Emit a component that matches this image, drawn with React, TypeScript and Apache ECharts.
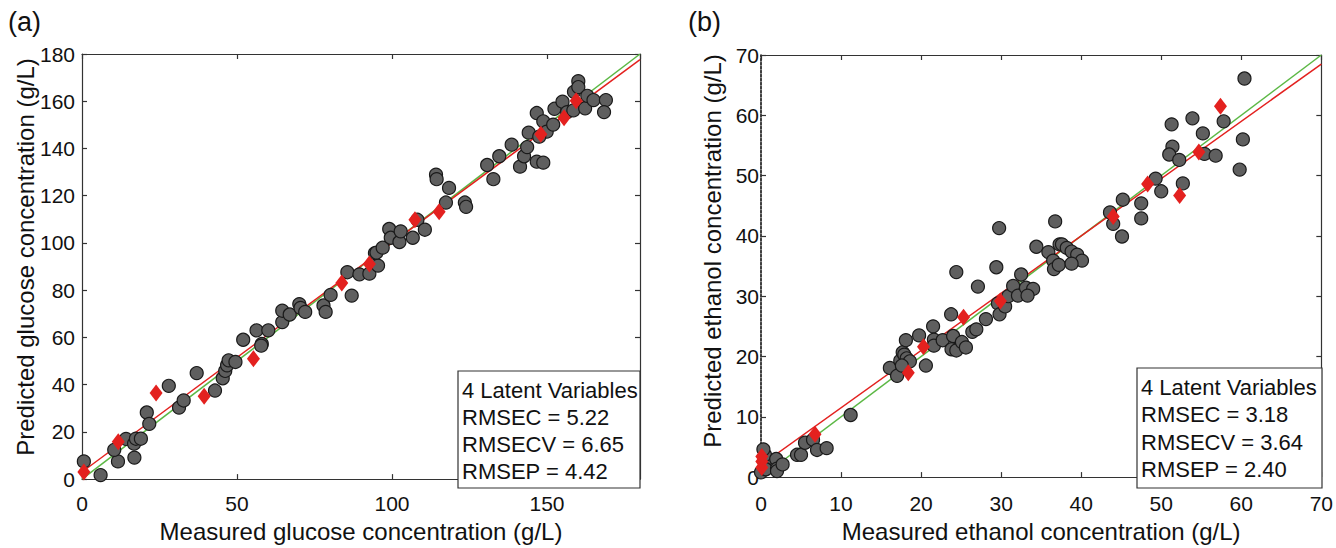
import React, { useEffect, useRef } from "react";
import * as echarts from "echarts";

// ---------- Panel (a): glucose ----------
const glucoseCalibration: number[][] = [
  [0.6, 7.5], [6, 1.7], [11.6, 7.5], [10.4, 12.4], [14.2, 17], [16.8, 15], [16.9, 9.1], [17.4, 17.1],
  [19, 17.1], [20.9, 28.2], [21.7, 23.4], [28, 39.5], [31.3, 30.3], [32.8, 33.3], [37, 44.9], [42.9, 37.5],
  [45.4, 42.7], [46.2, 45.8], [46.8, 48.2], [47.3, 50.3], [49.5, 49.6], [52, 59], [56.3, 63], [60.1, 63],
  [58, 57.2], [57.8, 56.5], [64.6, 66.5], [64.6, 71.3], [67, 69.7], [70.1, 74.1], [70.5, 72.5], [72, 70.8],
  [77.9, 73.5], [78.6, 70.8], [80.2, 78], [87, 77.7], [85.6, 87.6], [89.5, 86.7], [92.7, 87], [94.5, 95.7],
  [95.5, 90.4], [95, 95.9], [97, 98], [99.1, 105.9], [99.6, 102.2], [102.4, 100.4], [102.8, 104.9],
  [106.7, 102.2], [108.2, 109.8], [110.6, 105.6], [114.2, 128.9], [114.4, 127], [118.4, 123.3],
  [117.4, 117.1], [123.5, 117.1], [123.9, 115.3], [130.7, 133], [132.7, 127], [134.6, 136.7],
  [138.6, 141.6], [141.3, 132.3], [142.6, 136.7], [143.6, 140.6], [144.1, 146.7], [146.7, 134.4],
  [148.8, 134], [146.7, 155], [148.8, 151.5], [149.9, 147.1], [147.5, 145], [152, 150.1], [152.4, 156.8],
  [155, 159.8], [156.5, 155.4], [158.5, 156.1], [158.7, 164], [160.1, 168.5], [160.1, 166], [162.3, 157],
  [163, 162.3], [165, 160.5], [169, 160.5], [168.4, 155.4],
];
const glucosePrediction: number[][] = [
  [0.6, 3], [11.7, 15.8], [23.9, 36.5], [39.4, 35.1], [55.3, 51], [83.8, 83], [92.7, 91.1],
  [107.4, 109.8], [115.2, 113.2], [148, 146], [155.5, 153], [159.4, 160.2],
];
const glucoseIdealLine: number[][] = [[0, 0], [180, 180]];
const glucoseFitLine: number[][] = [[0, 3], [180, 177.6]];
const glucoseStats: string[] = ["4 Latent Variables", "RMSEC = 5.22", "RMSECV = 6.65", "RMSEP = 4.42"];

// ---------- Panel (b): ethanol ----------
const ethanolCalibration: number[][] = [
  [0, 0.8], [0.5, 2.6], [0.5, 3.7], [0.3, 4.6], [0.6, 1.3], [1.9, 3], [2, 1.4], [2, 1], [2.7, 2.1],
  [4.5, 3.7], [5, 3.7], [5.5, 5.7], [6.5, 6.2], [7, 4.5], [8.2, 4.8], [11.2, 10.3],
  [16.1, 18.1], [17, 16.8], [17.4, 19.3], [17.7, 20.7], [17.9, 20.3], [18.2, 19.7], [18.6, 19.2],
  [17.6, 18.5], [18.1, 22.7], [19.75, 23.5], [20.6, 18.5], [21.5, 25], [21.6, 22.8], [21.6, 21.8],
  [22.7, 22.7], [23.75, 27], [24, 23.4], [23.8, 21.2], [24.4, 21], [24.4, 34], [25.1, 22.4], [25.6, 21.5],
  [26.4, 24.1], [26.9, 24.5], [27.1, 31.6], [28.1, 26.2], [29.4, 34.8], [29.6, 28.8], [29.8, 27],
  [30.5, 28.3], [30.9, 30], [31.5, 31.7], [32.1, 30.1], [32.5, 33.6], [33.1, 31.4], [34, 31.2],
  [33.3, 30.1], [34.4, 38.2], [35.9, 37.3], [36.5, 35.9], [36.6, 34.5], [37.2, 35.2], [29.75, 41.3],
  [36.75, 42.4], [37.3, 38.6], [37.6, 38.6], [38.2, 38], [38.8, 37.4], [39.5, 36.9], [40.1, 35.9],
  [38.8, 35.4], [43.6, 43.9], [44, 42], [45.2, 46], [45.1, 39.9], [47.5, 45.4], [47.5, 42.9],
  [49.3, 49.5], [50, 47.4], [51.3, 58.5], [51.4, 54.8], [51, 53.5], [52.25, 52.6], [52.7, 48.7],
  [53.9, 59.5], [55.2, 57], [55.4, 53.6], [56.8, 53.3], [57.8, 59], [60.4, 66.1], [60.2, 56], [59.8, 51],
];
const ethanolPrediction: number[][] = [
  [0.1, 1.6], [0.1, 2.6], [0.1, 3.4], [6.75, 7.1], [18.4, 17.3], [20.3, 21.6], [25.3, 26.5],
  [29.9, 29.2], [44, 43.2], [48.3, 48.6], [52.3, 46.7], [54.7, 53.9], [57.4, 61.5],
];
const ethanolIdealLine: number[][] = [[0, 0], [70, 70]];
const ethanolFitLine: number[][] = [[0, 2], [70, 68.5]];
const ethanolStats: string[] = ["4 Latent Variables", "RMSEC = 3.18", "RMSECV = 3.64", "RMSEP = 2.40"];

const titles = {
  aX: "Measured glucose concentration (g/L)",
  aY: "Predicted glucose concentration (g/L)",
  bX: "Measured ethanol concentration (g/L)",
  bY: "Predicted ethanol concentration (g/L)",
};

const FONT = "'Liberation Sans', Arial, Helvetica, sans-serif";
const AXIS_COLOR = "#333";
const CIRCLE_FILL = "#5f5f5f";
const RED = "#e3211f";
const GREEN = "#5cb845";

function makeAxis(
  kind: "x" | "y",
  gridIndex: number,
  position: string,
  max: number,
  interval: number,
  showLabels: boolean,
  margin: number,
  dashed = false,
  name?: string,
  nameGap?: number
): any {
  const ax: any = {
    type: "value",
    gridIndex,
    position,
    min: 0,
    max,
    interval,
    axisLine: {
      show: true,
      onZero: false,
      lineStyle: { color: dashed ? "#111" : AXIS_COLOR, width: dashed ? 1.6 : 1.2, type: dashed ? [2.5, 1.5] : "solid" },
    },
    axisTick: { show: true, inside: true, length: 5, lineStyle: { color: AXIS_COLOR, width: 1.2 } },
    axisLabel: {
      show: showLabels,
      margin,
      color: "#111",
      fontSize: 21,
      fontFamily: FONT,
      showMaxLabel: kind === "y" || max % interval === 0,
      hideOverlap: false,
    },
    splitLine: { show: false },
  };
  if (name) {
    ax.name = name;
    ax.nameLocation = "middle";
    ax.nameGap = nameGap;
    ax.nameTextStyle = { color: "#111", fontSize: 24, fontFamily: FONT, verticalAlign: "top" };
  }
  return ax;
}

function statsGraphics(lines: string[], x: number, y: number, w: number, h: number, firstY: number, step: number) {
  const els: any[] = [
    {
      type: "rect",
      shape: { x, y, width: w, height: h },
      style: { fill: "#fff", stroke: AXIS_COLOR, lineWidth: 1.2 },
      z: 10,
    },
  ];
  lines.forEach((t, i) => {
    els.push({
      type: "text",
      x: x + 4,
      y: firstY + i * step,
      style: { text: t, font: `22px ${FONT}`, fill: "#111", align: "left", verticalAlign: "middle" },
      z: 11,
    });
  });
  return els;
}

export default function App() {
  const ref = useRef<HTMLDivElement>(null);

  useEffect(() => {
    if (!ref.current) return;
    const chart = echarts.init(ref.current, undefined, { renderer: "svg" });

    const circleStyle = { color: CIRCLE_FILL, borderColor: "#1a1a1a", borderWidth: 1.2, opacity: 1 };
    const diamondStyle = { color: RED, opacity: 1 };

    const option: any = {
      animation: false,
      backgroundColor: "#fff",
      grid: [
        { left: 82, top: 54, width: 558, height: 434 },
        { left: 761, top: 55, width: 561, height: 433 },
      ],
      xAxis: [
        makeAxis("x", 0, "bottom", 180, 50, true, 14, false, titles.aX, 34),
        makeAxis("x", 0, "top", 180, 50, false, 8),
        makeAxis("x", 1, "bottom", 70, 10, true, 16, false, titles.bX, 41),
        makeAxis("x", 1, "top", 70, 10, false, 8),
      ],
      yAxis: [
        makeAxis("y", 0, "left", 180, 20, true, 7),
        makeAxis("y", 0, "right", 180, 20, false, 8),
        makeAxis("y", 1, "left", 70, 10, true, 2, true),
        makeAxis("y", 1, "right", 70, 10, false, 8),
      ],
      series: [
        {
          type: "line", xAxisIndex: 0, yAxisIndex: 0, data: glucoseIdealLine, symbol: "none",
          lineStyle: { color: GREEN, width: 1.5 }, z: 1, silent: true,
        },
        {
          type: "line", xAxisIndex: 0, yAxisIndex: 0, data: glucoseFitLine, symbol: "none",
          lineStyle: { color: RED, width: 1.5 }, z: 1, silent: true,
        },
        {
          type: "scatter", xAxisIndex: 0, yAxisIndex: 0, data: glucoseCalibration, symbol: "circle",
          symbolSize: 13, itemStyle: circleStyle, z: 2, clip: false,
        },
        {
          type: "scatter", xAxisIndex: 0, yAxisIndex: 0, data: glucosePrediction, symbol: "diamond",
          symbolSize: [13, 17], itemStyle: diamondStyle, z: 3, clip: false,
        },
        {
          type: "line", xAxisIndex: 2, yAxisIndex: 2, data: ethanolIdealLine, symbol: "none",
          lineStyle: { color: GREEN, width: 1.5 }, z: 1, silent: true,
        },
        {
          type: "line", xAxisIndex: 2, yAxisIndex: 2, data: ethanolFitLine, symbol: "none",
          lineStyle: { color: RED, width: 1.5 }, z: 1, silent: true,
        },
        {
          type: "scatter", xAxisIndex: 2, yAxisIndex: 2, data: ethanolCalibration, symbol: "circle",
          symbolSize: 13, itemStyle: circleStyle, z: 2, clip: false,
        },
        {
          type: "scatter", xAxisIndex: 2, yAxisIndex: 2, data: ethanolPrediction, symbol: "diamond",
          symbolSize: [13, 17], itemStyle: diamondStyle, z: 3, clip: false,
        },
      ],
      graphic: [
        {
          type: "text", x: 8, y: 22,
          style: { text: "(a)", font: `27px ${FONT}`, fill: "#111", align: "left", verticalAlign: "middle" },
        },
        {
          type: "text", x: 688, y: 22,
          style: { text: "(b)", font: `27px ${FONT}`, fill: "#111", align: "left", verticalAlign: "middle" },
        },
        {
          type: "text", x: 25, y: 257, rotation: Math.PI / 2,
          style: { text: titles.aY, font: `24px ${FONT}`, fill: "#111", align: "center", verticalAlign: "middle" },
        },
        {
          type: "text", x: 712, y: 251, rotation: Math.PI / 2,
          style: { text: titles.bY, font: `24px ${FONT}`, fill: "#111", align: "center", verticalAlign: "middle" },
        },
        ...statsGraphics(glucoseStats, 458, 371, 182, 117, 390, 27.3),
        ...statsGraphics(ethanolStats, 1137, 368, 185, 120, 387, 27.6),
      ],
    };

    chart.setOption(option);
    return () => chart.dispose();
  }, []);

  return (
    <div
      ref={ref}
      style={{ position: "fixed", left: 0, top: 0, width: 1336, height: 548, background: "#fff" }}
    />
  );
}
